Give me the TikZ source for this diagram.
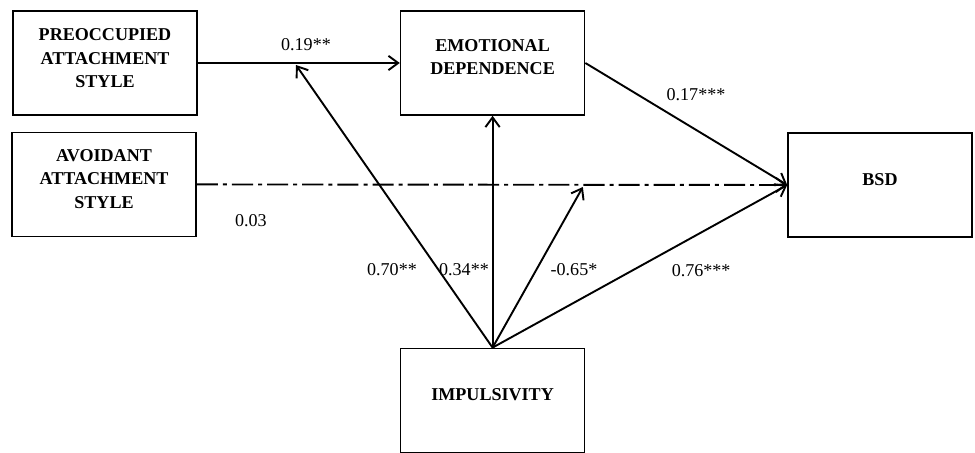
\documentclass[tikz,border=0pt]{standalone}
\usepackage{fontspec}
\setmainfont{Liberation Serif}
\usetikzlibrary{arrows.meta, positioning}

\begin{document}
\begin{tikzpicture}[
    font=\fontsize{18}{21.5}\selectfont,
    varbox/.style={draw, line width=1.6pt, minimum width=6.44cm, minimum height=3.64cm},
    boxtext/.style={align=center, font=\bfseries\fontsize{18}{23.5}\selectfont},
    patharrow/.style={-{Straight Barb[length=3.4mm,width=5mm]}, line width=1.9pt},
    dashdotarrow/.style={patharrow, dash pattern=on 21pt off 5pt on 4pt off 5pt},
    coef/.style={inner sep=1pt},
]

\useasboundingbox (0,0) rectangle (34.125,15.855);

% ===== Boxes (text sits a little above the middle) =====
\node[varbox] (pre) at (3.675, 13.65) {};
\node[boxtext] (pre-t) at ([yshift=0.17cm]pre.center) {PREOCCUPIED\\ATTACHMENT\\STYLE};
\node[varbox] (avo) at (3.64, 9.40) {};
\node[boxtext] (avo-t) at ([yshift=0.19cm]avo.center) {AVOIDANT\\ATTACHMENT\\STYLE};
\node[varbox] (emo) at (17.24, 13.65) {};
\node[boxtext] (emo-t) at ([yshift=0.21cm]emo.center) {EMOTIONAL\\DEPENDENCE};
\node[varbox] (bsd) at (30.80, 9.38) {};
\node[boxtext] (bsd-t) at ([yshift=0.18cm]bsd.center) {BSD};
\node[varbox] (imp) at (17.24, 1.84) {};
\node[boxtext] (imp-t) at ([yshift=0.19cm]imp.center) {IMPULSIVITY};

% moderation points on the two paths
\coordinate (modpre) at (10.36, 13.58);
\coordinate (modavo) at (20.40, 9.31);

% ===== Paths =====
\draw[patharrow] (pre) -- (emo);
\draw[patharrow] (emo.east) -- (bsd.west);
\draw[dashdotarrow] (avo.east) -- (bsd.west);

% Impulsivity fan
\draw[patharrow] (imp.north) -- (modpre);
\draw[patharrow] (imp.north) -- (emo.south);
\draw[patharrow] (imp.north) -- (modavo);
\draw[patharrow] (imp.north) -- (bsd.west);

% ===== Coefficients =====
\node[coef] (c1) at (10.71, 14.30) {0.19**};
\node[coef] (c2) at (24.36, 12.53) {0.17***};
\node[coef] (c3) at (8.78, 8.12) {0.03};
\node[coef] (c4) at (13.72, 6.42) {0.70**};
\node[coef] (c5) at (16.24, 6.42) {0.34**};
\node[coef] (c6) at (20.09, 6.42) {-0.65*};
\node[coef] (c7) at (24.54, 6.40) {0.76***};

\end{tikzpicture}
\end{document}
